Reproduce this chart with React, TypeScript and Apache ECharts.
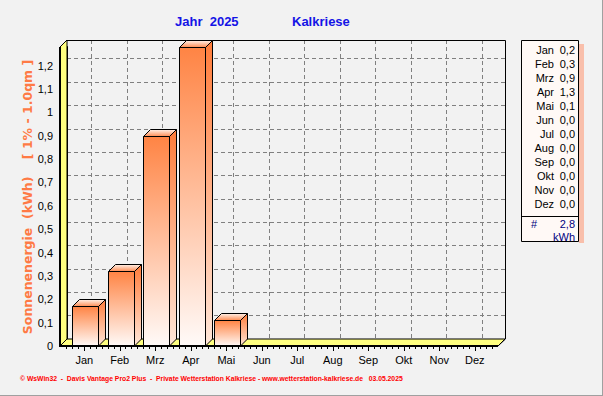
import React, { useEffect, useRef } from 'react';
import * as echarts from 'echarts';

// ---------- data ----------
const months = ['Jan', 'Feb', 'Mrz', 'Apr', 'Mai', 'Jun', 'Jul', 'Aug', 'Sep', 'Okt', 'Nov', 'Dez'];
const energy = [0.17, 0.32, 0.9, 1.28, 0.11, 0, 0, 0, 0, 0, 0, 0];
const yTicks = [0, 0.1, 0.2, 0.3, 0.4, 0.5, 0.6, 0.7, 0.8, 0.9, 1, 1.1, 1.2];
const Y_MAX = 1.28;
const titleYear = 'Jahr  2025';
const titleStation = 'Kalkriese';
const yName = 'Sonnenenergie  (kWh)    [ 1% - 1.0qm ]';
const unit = 'kWh';
const footer = '\u00a9 WsWin32  -  Davis Vantage Pro2 Plus  -  Private Wetterstation Kalkriese - www.wetterstation-kalkriese.de   03.05.2025';

// ---------- layout ----------
const FX = 60; // front left edge (y axis)
const CL = 66.5; // category band start
const CW = 426; // category band width
const PT = 47; // plot top (front)
const PH = 299; // plot height (front)
const PB = PT + PH; // 346
const D = 7; // 3D depth
const FR = 498; // front right
const BR = FR + D; // back right
const FONT = 'Liberation Sans, Arial, sans-serif';

const fmt = (v: number | string) => String(v).replace('.', ',');

export default function App() {
  const ref = useRef<HTMLDivElement>(null);
  useEffect(() => {
    if (!ref.current) return;
    const chart = echarts.init(ref.current, undefined, { renderer: 'svg' });

    const frontGrad = () =>
      new echarts.graphic.LinearGradient(0, 0, 0, 1, [
        { offset: 0, color: '#FF8444' },
        { offset: 1, color: '#FFFAF8' },
      ]);
    const sideGrad = () =>
      new echarts.graphic.LinearGradient(0, 0, 0, 1, [
        { offset: 0, color: '#FF7C3A' },
        { offset: 1, color: '#FFE6D8' },
      ]);
    const topGrad = () =>
      new echarts.graphic.LinearGradient(0, 0, 0, 1, [
        { offset: 0, color: '#FFF2EA' },
        { offset: 1, color: '#FF8C52' },
      ]);

    const total = energy.reduce((a, b) => a + b, 0);

    const legendItems: any[] = [
      { type: 'rect', shape: { x: 579, y: 44, width: 5, height: 199 }, style: { fill: 'rgba(255,140,100,0.5)' }, z: 20 },
      { type: 'rect', shape: { x: 521.5, y: 40.5, width: 57, height: 201 }, style: { fill: '#FFF9F6', stroke: '#000', lineWidth: 1 }, z: 21 },
      { type: 'line', shape: { x1: 521.5, y1: 216.5, x2: 578.5, y2: 216.5 }, style: { stroke: '#000', lineWidth: 1 }, z: 22 },
    ];
    months.forEach((m, i) => {
      legendItems.push({
        type: 'text', x: 554, y: 50 + 14 * i, z: 22,
        style: { text: m, align: 'right', verticalAlign: 'middle', font: `11px ${FONT}`, fill: '#000' },
      });
      legendItems.push({
        type: 'text', x: 575, y: 50 + 14 * i, z: 22,
        style: { text: fmt(energy[i].toFixed(1)), align: 'right', verticalAlign: 'middle', font: `11px ${FONT}`, fill: '#000' },
      });
    });
    legendItems.push(
      { type: 'text', x: 531, y: 224, z: 22, style: { text: '#', align: 'left', verticalAlign: 'middle', font: `11px ${FONT}`, fill: '#000080' } },
      { type: 'text', x: 575, y: 224, z: 22, style: { text: fmt(total.toFixed(1)), align: 'right', verticalAlign: 'middle', font: `11px ${FONT}`, fill: '#000080' } },
      { type: 'text', x: 575, y: 237, z: 22, style: { text: unit, align: 'right', verticalAlign: 'middle', font: `11px ${FONT}`, fill: '#000080' } },
    );

    const option: any = {
      animation: false,
      backgroundColor: '#F2F2F2',
      title: [
        { text: titleYear, left: 175, top: 15, padding: 0, textStyle: { color: '#1414E6', fontSize: 13, fontWeight: 'bold', fontFamily: FONT } },
        { text: titleStation, left: 292, top: 15, padding: 0, textStyle: { color: '#1414E6', fontSize: 13, fontWeight: 'bold', fontFamily: FONT } },
      ],
      grid: [
        { left: CL, top: PT, width: CW, height: PH },
        { left: FX + D, top: PT - D, width: BR - FX - D, height: PH },
        { left: CL + CW / 24 + D, top: PT - D, width: (CW * 11) / 12, height: PH },
      ],
      xAxis: [
        {
          type: 'category', gridIndex: 0, data: months,
          axisLine: { show: true, lineStyle: { color: '#000', width: 2 } },
          axisTick: { show: true, alignWithLabel: true, length: 5, interval: 0, lineStyle: { color: '#000' } },
          axisLabel: { color: '#000', fontSize: 11, fontFamily: FONT, margin: 8, interval: 0 },
          splitLine: { show: false },
        },
        {
          type: 'value', gridIndex: 0, min: 0, max: 72, interval: 1, position: 'bottom',
          axisLine: { show: false },
          axisTick: { show: true, length: 3, lineStyle: { color: '#000' } },
          axisLabel: { show: false },
          splitLine: { show: false },
        },
        {
          type: 'value', gridIndex: 1, min: 0, max: 1, show: false, splitLine: { show: false },
        },
        {
          type: 'category', gridIndex: 2, data: months, boundaryGap: false,
          axisLine: { show: false }, axisTick: { show: false }, axisLabel: { show: false },
          splitLine: { show: true, interval: 0, lineStyle: { color: '#808080', type: [4, 3], width: 1 } },
        },
      ],
      yAxis: [
        {
          type: 'value', gridIndex: 0, min: 0, max: Y_MAX, interval: 0.1, offset: CL - FX,
          axisLine: { show: true, lineStyle: { color: '#000', width: 2 } },
          axisTick: { show: true, length: 4, customValues: yTicks, lineStyle: { color: '#000' } },
          axisLabel: { customValues: yTicks, formatter: (v: number) => fmt(v), color: '#000', fontSize: 11, fontFamily: FONT, margin: 7 },
          splitLine: { show: false },
        },
        {
          type: 'value', gridIndex: 1, min: 0, max: Y_MAX, interval: 0.1,
          axisLine: { show: false }, axisTick: { show: false }, axisLabel: { show: false },
          splitLine: { show: true, lineStyle: { color: '#808080', type: [4, 3], width: 1 } },
        },
        {
          type: 'value', gridIndex: 2, min: 0, max: 1, show: false, splitLine: { show: false },
        },
      ],
      graphic: [
        { type: 'polygon', z: 1, shape: { points: [[FX, PT], [FX + D, PT - D], [FX + D, PB - D], [FX, PB]] }, style: { fill: '#FFFF80', stroke: '#000', lineWidth: 1 } },
        { type: 'polygon', z: 1, shape: { points: [[FX, PB], [FX + D, PB - D], [BR, PB - D], [FR, PB]] }, style: { fill: '#FFFF80', stroke: '#000', lineWidth: 1 } },
        { type: 'polyline', z: 1, shape: { points: [[FX + D, PT - D + 0.5], [BR + 0.5, PT - D + 0.5], [BR + 0.5, PB - D], [FR, PB]] }, style: { stroke: '#000', lineWidth: 1, fill: 'none' } },
        { type: 'polyline', z: 100, shape: { points: [[FX, PT], [FX, PB], [FR, PB]] }, style: { stroke: '#000', lineWidth: 2, fill: 'none' } },
        {
          type: 'text', x: 27, y: 197, rotation: Math.PI / 2, z: 22,
          style: { text: yName, align: 'center', verticalAlign: 'middle', font: `bold 12.5px DejaVu Sans`, fill: '#FF7A45' },
        },
        ...legendItems,
        { type: 'text', x: 20, y: 378, z: 22, style: { text: footer, font: `bold 6.8px ${FONT}`, fill: '#FF0000', verticalAlign: 'middle' } },
        { type: 'line', z: 30, shape: { x1: 602.5, y1: 0, x2: 602.5, y2: 396 }, style: { stroke: '#A0A0A0', lineWidth: 1 } },
        { type: 'line', z: 30, shape: { x1: 0, y1: 395.5, x2: 603, y2: 395.5 }, style: { stroke: '#A0A0A0', lineWidth: 1 } },
      ],
      series: [
        {
          type: 'custom', xAxisIndex: 0, yAxisIndex: 0, z: 10,
          data: energy.map((v, i) => [i, v]),
          renderItem: (params: any, api: any) => {
            const v = api.value(1);
            if (!(v > 0)) return null;
            const idx = api.value(0);
            const top = api.coord([idx, v]);
            const base = api.coord([idx, 0]);
            const bw = api.size([1, 0])[0] * 0.73;
            const x0 = Math.round(top[0] - bw / 2 + 1) + 0.5;
            const x1 = x0 + Math.round(bw);
            const yt = Math.round(top[1]) + 0.5;
            const yb = base[1];
            return {
              type: 'group',
              children: [
                { type: 'polygon', shape: { points: [[x1, yt], [x1 + D, yt - D], [x1 + D, yb - D], [x1, yb]] }, style: { fill: sideGrad(), stroke: '#000', lineWidth: 1 } },
                { type: 'polygon', shape: { points: [[x0, yt], [x0 + D, yt - D], [x1 + D, yt - D], [x1, yt]] }, style: { fill: topGrad(), stroke: '#000', lineWidth: 1 } },
                { type: 'rect', shape: { x: x0, y: yt, width: x1 - x0, height: yb - yt }, style: { fill: frontGrad(), stroke: '#000', lineWidth: 1 } },
              ],
            };
          },
        },
      ],
    };
    chart.setOption(option);
    return () => chart.dispose();
  }, []);
  return <div ref={ref} style={{ position: 'fixed', left: 0, top: 0, width: 603, height: 396 }} />;
}
